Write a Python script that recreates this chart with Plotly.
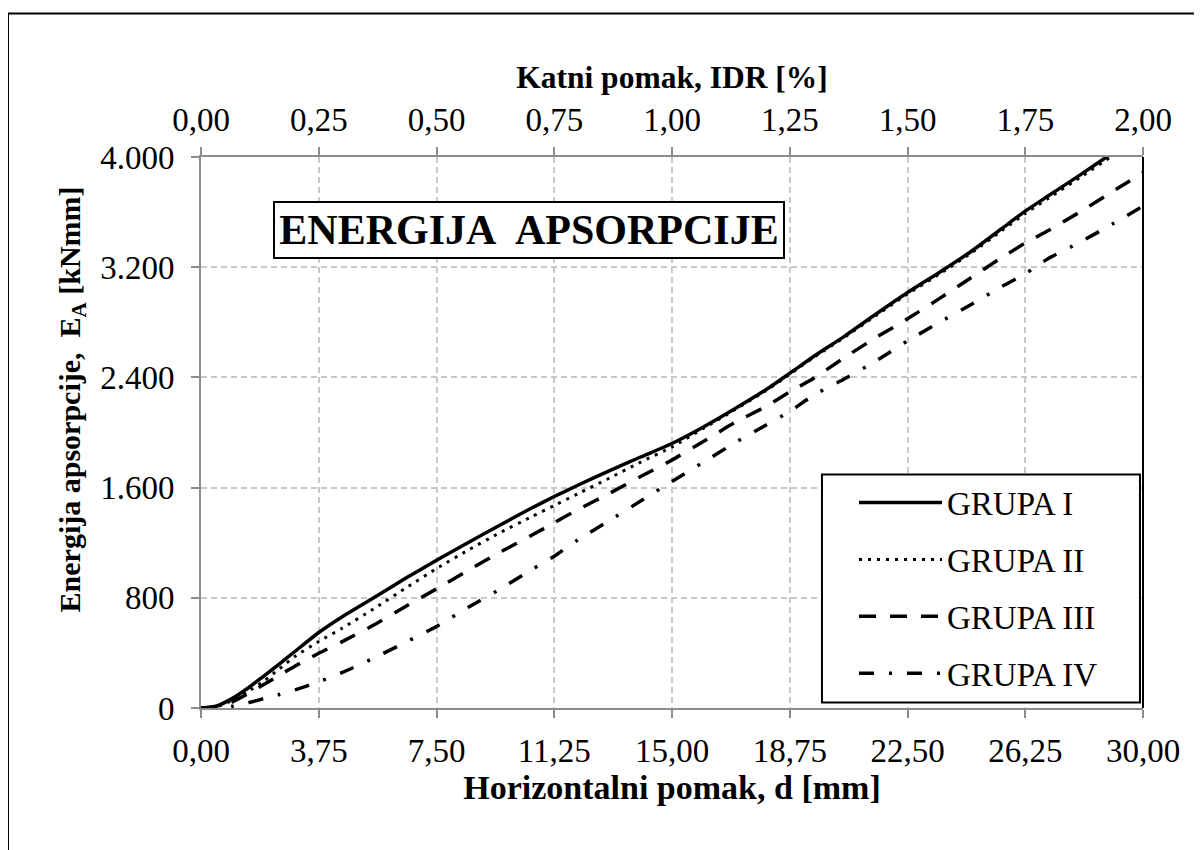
import plotly.graph_objects as go

# ---- data ----
d_mm = [0, 0.5, 1, 1.5, 2, 2.5, 3, 3.75, 4.5, 5.5, 6.5, 7.5, 8.5, 9.5, 10.5, 11.25, 12, 13, 14, 15,
        16, 17, 18, 18.75, 19.5, 20.5, 21.5, 22.5, 23.5, 24.5, 25.5, 26.25, 27, 28, 29, 30]

grupa_1 = [0, 15, 70, 145, 232, 320, 412, 548, 663, 800, 940, 1072, 1200, 1325, 1448, 1535, 1617, 1722, 1822, 1920,
           2040, 2172, 2312, 2430, 2550, 2700, 2860, 3016, 3160, 3310, 3480, 3607, 3720, 3870, 4025, 4180]
grupa_2 = [0, 10, 55, 120, 195, 285, 375, 483, 580, 720, 868, 1012, 1145, 1270, 1385, 1470, 1555, 1668, 1785, 1895,
           2030, 2165, 2305, 2423, 2543, 2692, 2850, 3005, 3148, 3298, 3465, 3590, 3702, 3852, 4005, 4160]
grupa_3 = [0, 8, 45, 105, 170, 238, 305, 397, 482, 602, 735, 865, 998, 1128, 1250, 1345, 1440, 1557, 1680, 1800,
           1935, 2072, 2190, 2295, 2392, 2545, 2690, 2825, 2970, 3120, 3270, 3375, 3468, 3602, 3745, 3885]
grupa_4 = [0, 2, 13, 38, 68, 98, 132, 190, 258, 362, 475, 592, 730, 860, 1000, 1102, 1220, 1360, 1502, 1645,
           1785, 1925, 2055, 2152, 2270, 2390, 2520, 2665, 2798, 2925, 3060, 3152, 3265, 3382, 3510, 3643]

series_names = ["GRUPA I", "GRUPA II", "GRUPA III", "GRUPA IV"]

x_tickvals = [0, 3.75, 7.5, 11.25, 15, 18.75, 22.5, 26.25, 30]
x_ticktext = ["0,00", "3,75", "7,50", "11,25", "15,00", "18,75", "22,50", "26,25", "30,00"]
idr_tickvals = [0, 0.25, 0.5, 0.75, 1.0, 1.25, 1.5, 1.75, 2.0]
idr_ticktext = ["0,00", "0,25", "0,50", "0,75", "1,00", "1,25", "1,50", "1,75", "2,00"]
y_tickvals = [0, 800, 1600, 2400, 3200, 4000]
y_ticktext = ["0", "800", "1.600", "2.400", "3.200", "4.000"]

# ---- styling ----
FONT = "Liberation Serif"
AX_GRAY = "#8c8c8c"
GRID = "#c8c8c8"
styles = [
    dict(color="black", width=3.5, dash="solid"),
    dict(color="black", width=3, dash="3px,6px"),
    dict(color="black", width=3.5, dash="17px,14px"),
    dict(color="black", width=3.5, dash="15px,15px,3px,15px"),
]

fig = go.Figure()
for name, ys, st in zip(series_names, [grupa_1, grupa_2, grupa_3, grupa_4], styles):
    fig.add_trace(go.Scatter(x=d_mm, y=ys, mode="lines", name=name, line=st,
                             line_shape="spline", line_smoothing=0.6, legendgroup=name))

# invisible helper trace so the top IDR axis is drawn
fig.add_trace(go.Scatter(x=[idr_tickvals[0], idr_tickvals[-1]], y=[0, 0], xaxis="x2", mode="lines",
                         line=dict(width=0), opacity=0, showlegend=False, hoverinfo="skip"))

tickfont = dict(family=FONT, size=33, color="black")

fig.update_layout(
    width=1202, height=850,
    margin=dict(l=193, r=67, t=149, b=150),
    paper_bgcolor="white", plot_bgcolor="white",
    showlegend=True,
    xaxis=dict(range=[0, 30], tickvals=x_tickvals, ticktext=x_ticktext, tickfont=tickfont,
               showline=True, linecolor=AX_GRAY, linewidth=2, ticks="outside", ticklen=8,
               tickcolor=AX_GRAY, tickwidth=2, showgrid=True, gridcolor=GRID, gridwidth=2,
               griddash="6px,4px", zeroline=False, ticklabelstandoff=4,
               title=dict(text="<b>Horizontalni pomak, d [mm]</b>",
                          font=dict(family=FONT, size=34, color="black"), standoff=0)),
    xaxis2=dict(range=[0, 2], overlaying="x", side="top", anchor="y", tickvals=idr_tickvals,
                ticktext=idr_ticktext, tickfont=tickfont, showline=True, linecolor=AX_GRAY, linewidth=2,
                ticks="outside", ticklen=8, tickcolor=AX_GRAY, tickwidth=2, showgrid=False,
                zeroline=False, ticklabelstandoff=3,
                title=dict(text="<b>Katni pomak, IDR [%]</b>",
                           font=dict(family=FONT, size=31.5, color="black"), standoff=4)),
    yaxis=dict(range=[0, 4000], tickvals=y_tickvals, ticktext=y_ticktext, tickfont=tickfont,
               showline=True, linecolor=AX_GRAY, linewidth=2, ticks="outside", ticklen=8,
               tickcolor=AX_GRAY, tickwidth=2, showgrid=True, gridcolor=GRID, gridwidth=2,
               griddash="6px,4px", zeroline=False, ticklabelstandoff=10),
    legend=dict(x=0.6932, y=0.4237, xanchor="left", yanchor="top", bgcolor="rgba(0,0,0,0)",
                borderwidth=0, font=dict(family=FONT, size=33, color="black"),
                tracegroupgap=11, itemwidth=83),
    shapes=[
        # legend frame
        dict(type="rect", xref="paper", yref="paper", x0=0.6592, x1=0.9968, y0=0.01, y1=0.4238,
             line=dict(color="black", width=2), fillcolor="white", layer="above"),
        # right border of plot area (black)
        dict(type="line", xref="paper", yref="paper", x0=1, x1=1, y0=0, y1=1,
             line=dict(color="black", width=2), layer="above"),
        # outer chart border
        dict(type="rect", xref="paper", yref="paper", x0=-0.2049, x1=1.0563, y0=-0.27, y1=1.2604,
             line=dict(color="black", width=2), fillcolor="rgba(0,0,0,0)", layer="above"),
    ],
    annotations=[
        dict(text="<b>ENERGIJA&nbsp; APSORPCIJE</b>", xref="paper", yref="paper", x=0.348, y=0.868,
             xanchor="center", yanchor="middle", showarrow=False,
             font=dict(family=FONT, size=42, color="black"), bgcolor="white",
             bordercolor="black", borderwidth=2, borderpad=1, width=506, height=52),
        dict(text="<b>Energija apsorpcije,  E<sub>A</sub> [kNmm]</b>", xref="paper", yref="paper",
             x=-0.137, y=0.56, xanchor="center", yanchor="middle", textangle=-90, showarrow=False,
             font=dict(family=FONT, size=30, color="black")),
    ],
)

fig.write_html("out.html")
